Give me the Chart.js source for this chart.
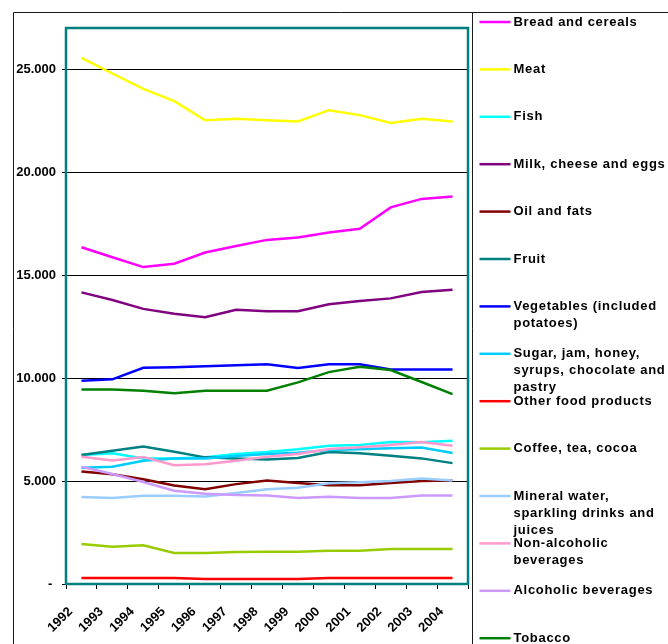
<!DOCTYPE html>
<html>
<head>
<meta charset="utf-8">
<script src="https://cdn.jsdelivr.net/npm/chart.js@4/dist/chart.umd.min.js"></script>
<style>
  html, body { margin: 0; padding: 0; background: #fff; }
  #wrap { width: 668px; height: 644px; }
</style>
</head>
<body>
<div id="wrap"><canvas id="c" width="668" height="644"></canvas></div>
<script>
// Food expenditure by category, 1992-2004
const years = ['1992','1993','1994','1995','1996','1997','1998','1999','2000','2001','2002','2003','2004'];
const yTickValues = [0, 5000, 10000, 15000, 20000, 25000];

const breadCereals  = [16350, 15870, 15390, 15550, 16100, 16410, 16710, 16830, 17070, 17250, 18290, 18700, 18820];
const meat          = [25550, 24790, 24040, 23450, 22520, 22590, 22520, 22460, 23010, 22770, 22390, 22590, 22460];
const fish          = [6260, 6350, 6100, 6100, 6150, 6310, 6410, 6540, 6710, 6750, 6890, 6880, 6960];
const milkCheese    = [14160, 13790, 13360, 13120, 12960, 13320, 13250, 13250, 13580, 13740, 13870, 14180, 14290];
const oilFats       = [5460, 5330, 5090, 4780, 4600, 4850, 5030, 4910, 4790, 4790, 4910, 5000, 5030];
const fruit         = [6260, 6470, 6680, 6420, 6150, 6100, 6050, 6120, 6410, 6350, 6230, 6100, 5870];
const vegetables    = [9870, 9940, 10500, 10520, 10570, 10620, 10670, 10490, 10670, 10670, 10420, 10420, 10420];
const sugarPastry   = [5650, 5690, 5990, 6100, 6100, 6210, 6310, 6370, 6510, 6540, 6590, 6630, 6360];
const otherFood     = [290, 290, 290, 290, 240, 240, 240, 240, 290, 290, 290, 290, 290];
const coffeeTea     = [1940, 1810, 1880, 1510, 1510, 1550, 1570, 1570, 1620, 1620, 1700, 1700, 1700];
const mineralWater  = [4220, 4180, 4290, 4290, 4250, 4420, 4600, 4670, 4890, 4940, 5000, 5120, 5030];
const nonAlcoholic  = [6180, 6000, 6170, 5770, 5820, 5990, 6180, 6310, 6550, 6640, 6750, 6890, 6710];
const alcoholic     = [5690, 5340, 4950, 4530, 4380, 4320, 4300, 4180, 4240, 4180, 4180, 4300, 4300];
const tobacco       = [9450, 9450, 9390, 9260, 9390, 9390, 9390, 9790, 10290, 10550, 10390, 9810, 9220];

// Legend text, one entry per series, wrapped as shown in the key
const seriesLabels = [
  ['Bread and cereals'],
  ['Meat'],
  ['Fish'],
  ['Milk, cheese and eggs'],
  ['Oil and fats'],
  ['Fruit'],
  ['Vegetables (included', 'potatoes)'],
  ['Sugar, jam, honey,', 'syrups, chocolate and', 'pastry'],
  ['Other food products'],
  ['Coffee, tea, cocoa'],
  ['Mineral water,', 'sparkling drinks and', 'juices'],
  ['Non-alcoholic', 'beverages'],
  ['Alcoholic beverages'],
  ['Tobacco']
];

const seriesValues = [breadCereals, meat, fish, milkCheese, oilFats, fruit, vegetables,
  sugarPastry, otherFood, coffeeTea, mineralWater, nonAlcoholic, alcoholic, tobacco];

const seriesColors = ['#FF00FF', '#FFFF00', '#00FFFF', '#800080', '#800000', '#008080', '#0000FF',
  '#00CCFF', '#FF0000', '#99CC00', '#99CCFF', '#FF99CC', '#CC99FF', '#008000'];

const FONT = '"Liberation Sans", Arial, sans-serif';

function thousands(v) {
  if (v === 0) return '- ';
  return String(v).replace(/\B(?=(\d{3})+(?!\d))/g, '.');
}

// Frame, plot border and the side key
const framePlugin = {
  id: 'frame',
  afterDraw(chart) {
    const { ctx, chartArea: a, width, height } = chart;
    ctx.save();

    // outer chart frame and key separator
    ctx.strokeStyle = '#1a1a1a';
    ctx.lineWidth = 1;
    ctx.beginPath();
    ctx.moveTo(13.5, height);
    ctx.lineTo(13.5, 12.5);
    ctx.lineTo(width, 12.5);
    const sep = a.right + 4.5;
    ctx.moveTo(sep, 12.5);
    ctx.lineTo(sep, height);
    ctx.stroke();

    // plot area border
    ctx.strokeStyle = '#008080';
    ctx.lineWidth = 2.5;
    ctx.strokeRect(a.left, a.top, a.right - a.left, a.bottom - a.top);

    // key
    const keyX = sep + 7;
    const keyTop = 22;
    const keyStep = 47.4;
    const lineH = 17;
    ctx.font = 'bold 13px ' + FONT;
    ctx.textBaseline = 'middle';
    ctx.textAlign = 'left';
    try { ctx.letterSpacing = '0.7px'; } catch (e) {}
    chart.data.datasets.forEach((ds, i) => {
      const y = keyTop + i * keyStep;
      ctx.strokeStyle = ds.borderColor;
      ctx.lineWidth = 2.5;
      ctx.beginPath();
      ctx.moveTo(keyX, y);
      ctx.lineTo(keyX + 31, y);
      ctx.stroke();
      ctx.fillStyle = '#000';
      seriesLabels[i].forEach((t, j) => ctx.fillText(t, keyX + 34, y + j * lineH));
    });
    ctx.restore();
  }
};

const datasets = seriesValues.map((vals, i) => ({
  label: seriesLabels[i].join(' '),
  data: vals,
  borderColor: seriesColors[i],
  backgroundColor: seriesColors[i],
  borderWidth: 2.5,
  pointRadius: 0,
  tension: 0,
  fill: false,
  order: seriesValues.length - i
}));

new Chart(document.getElementById('c'), {
  type: 'line',
  data: { labels: years, datasets },
  options: {
    responsive: false,
    animation: false,
    devicePixelRatio: 1,
    layout: { padding: { left: 0, top: 28, right: 200, bottom: 0 } },
    plugins: { legend: { display: false }, tooltip: { enabled: false } },
    scales: {
      x: {
        type: 'category',
        offset: true,
        grid: { offset: true, drawOnChartArea: false, drawTicks: true, tickLength: 5, color: '#000', tickColor: '#000' },
        border: { display: false },
        ticks: {
          autoSkip: false,
          minRotation: 45,
          maxRotation: 45,
          padding: 15,
          labelOffset: -11,
          color: '#000',
          font: { family: FONT, size: 13, weight: 'bold' }
        },
        afterFit(s) { s.height = 60; }
      },
      y: {
        min: 0,
        max: 27000,
        grid: { color: '#000', lineWidth: 1, tickLength: 4, tickColor: '#000' },
        border: { display: false },
        afterBuildTicks(s) { s.ticks = yTickValues.map(v => ({ value: v })); },
        ticks: {
          padding: 6,
          color: '#000',
          font: { family: FONT, size: 13, weight: 'bold' },
          callback: (v) => thousands(v)
        },
        afterFit(s) { s.width = 66; }
      }
    }
  },
  plugins: [framePlugin]
});
</script>
</body>
</html>
